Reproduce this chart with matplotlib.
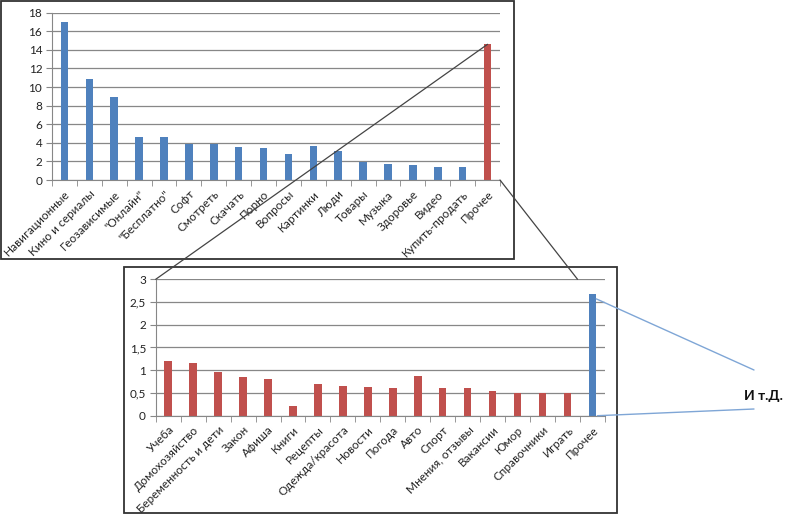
import matplotlib.pyplot as plt
from matplotlib.patches import Rectangle, ConnectionPatch

plt.rcParams['font.family'] = ['Lato', 'DejaVu Sans']

# верхняя диаграмма
cats_top = ["Навигационные", "Кино и сериалы", "Геозависимые", "\"Онлайн\"",
            "\"Бесплатно\"", "Софт", "Смотреть", "Скачать", "Порно", "Вопросы",
            "Картинки", "Люди", "Товары", "Музыка", "Здоровье", "Видео",
            "Купить-продать", "Прочее"]
vals_top = [17.05, 10.85, 8.95, 4.6, 4.6, 3.85, 3.85, 3.5, 3.4, 2.85,
            3.65, 3.12, 1.95, 1.72, 1.65, 1.45, 1.35, 14.6]
ticks_top = [0, 2, 4, 6, 8, 10, 12, 14, 16, 18]

# нижняя диаграмма (раскрытие "Прочее")
cats_bot = ["Учеба", "Домохозяйство", "Беременность и дети", "Закон", "Афиша",
            "Книги", "Рецепты", "Одежда/красота", "Новости", "Погода", "Авто",
            "Спорт", "Мнения, отзывы", "Вакансии", "Юмор", "Справочники",
            "Играть", "Прочее"]
vals_bot = [1.2, 1.17, 0.97, 0.86, 0.81, 0.21, 0.7, 0.65, 0.63, 0.62, 0.87,
            0.62, 0.6, 0.54, 0.5, 0.49, 0.49, 2.68]
ticks_bot = [0, 0.5, 1, 1.5, 2, 2.5, 3]
tick_lbl_bot = ["0", "0,5", "1", "1,5", "2", "2,5", "3"]

BLUE = "#4F81BD"
RED = "#C0504D"
GRID = "#878787"
W, H = 800, 515


def px_axes(fig, x0, y0, x1, y1):
    # пиксели (от верхнего левого угла) -> доли фигуры
    return fig.add_axes([x0 / W, 1 - y1 / H, (x1 - x0) / W, (y1 - y0) / H])


def style(ax, cats, ticks, labels, ymax):
    n = len(cats)
    ax.set_xlim(-0.5, n - 0.5)
    ax.set_ylim(0, ymax)
    ax.set_yticks(ticks)
    ax.set_yticklabels(labels, fontsize=8.5, color="#222222")
    ax.set_xticks(range(n))
    ax.set_xticklabels(cats, rotation=45, ha="right", rotation_mode="anchor",
                       fontsize=8.5, color="#222222")
    ax.set_xticks([i - 0.5 for i in range(n + 1)], minor=True)
    ax.tick_params(axis="x", which="major", length=0, pad=6)
    ax.tick_params(axis="x", which="minor", length=4, color=GRID)
    ax.tick_params(axis="y", length=4, color=GRID, pad=3)
    ax.grid(axis="y", color=GRID, lw=0.9)
    ax.set_axisbelow(True)
    for s in ("top", "right"):
        ax.spines[s].set_visible(False)
    for s in ("left", "bottom"):
        ax.spines[s].set_color(GRID)
    ax.patch.set_alpha(0)


fig = plt.figure(figsize=(W / 100, H / 100), dpi=100)

# рамки
fig.add_artist(Rectangle((0.5 / W, 1 - 259 / H), 513.5 / W, 258.5 / H,
                         transform=fig.transFigure, fill=False,
                         ec="#333333", lw=1.3))
fig.add_artist(Rectangle((124 / W, 1 - 513 / H), 493 / W, 246 / H,
                         transform=fig.transFigure, fill=False,
                         ec="#333333", lw=1.3))

ax1 = px_axes(fig, 52, 12.7, 500, 180)
col_top = [BLUE] * (len(cats_top) - 1) + [RED]
ax1.bar(range(len(cats_top)), vals_top, width=0.3, color=col_top)
style(ax1, cats_top, ticks_top, [str(t) for t in ticks_top], 18)

ax2 = px_axes(fig, 155.7, 279.3, 605, 415.7)
col_bot = [RED] * (len(cats_bot) - 1) + [BLUE]
ax2.bar(range(len(cats_bot)), vals_bot, width=0.3, color=col_bot)
style(ax2, cats_bot, ticks_bot, tick_lbl_bot, 3)

# линии-выноски
n = len(cats_top)
for pa, pb in [((n - 1, vals_top[-1]), (-0.5, 3)),
               ((n - 0.5, 0), (16.4, 3))]:
    fig.add_artist(ConnectionPatch(pa, pb, coordsA=ax1.transData,
                                   coordsB=ax2.transData,
                                   color="#444444", lw=0.9))

m = len(cats_bot)
for pa, pb in [((m - 1 + 0.15, 2.57), (754 / W, 1 - 370 / H)),
               ((m - 1 + 0.2, 0), (754 / W, 1 - 409 / H))]:
    fig.add_artist(ConnectionPatch(pa, pb, coordsA=ax2.transData,
                                   coordsB="figure fraction",
                                   color="#7FA6D6", lw=1.0))

fig.text(763 / W, 1 - 396 / H, "И т.Д.", fontsize=10, fontweight="bold",
         ha="center", va="center", color="#111111")

fig.savefig("out.png", dpi=100)
